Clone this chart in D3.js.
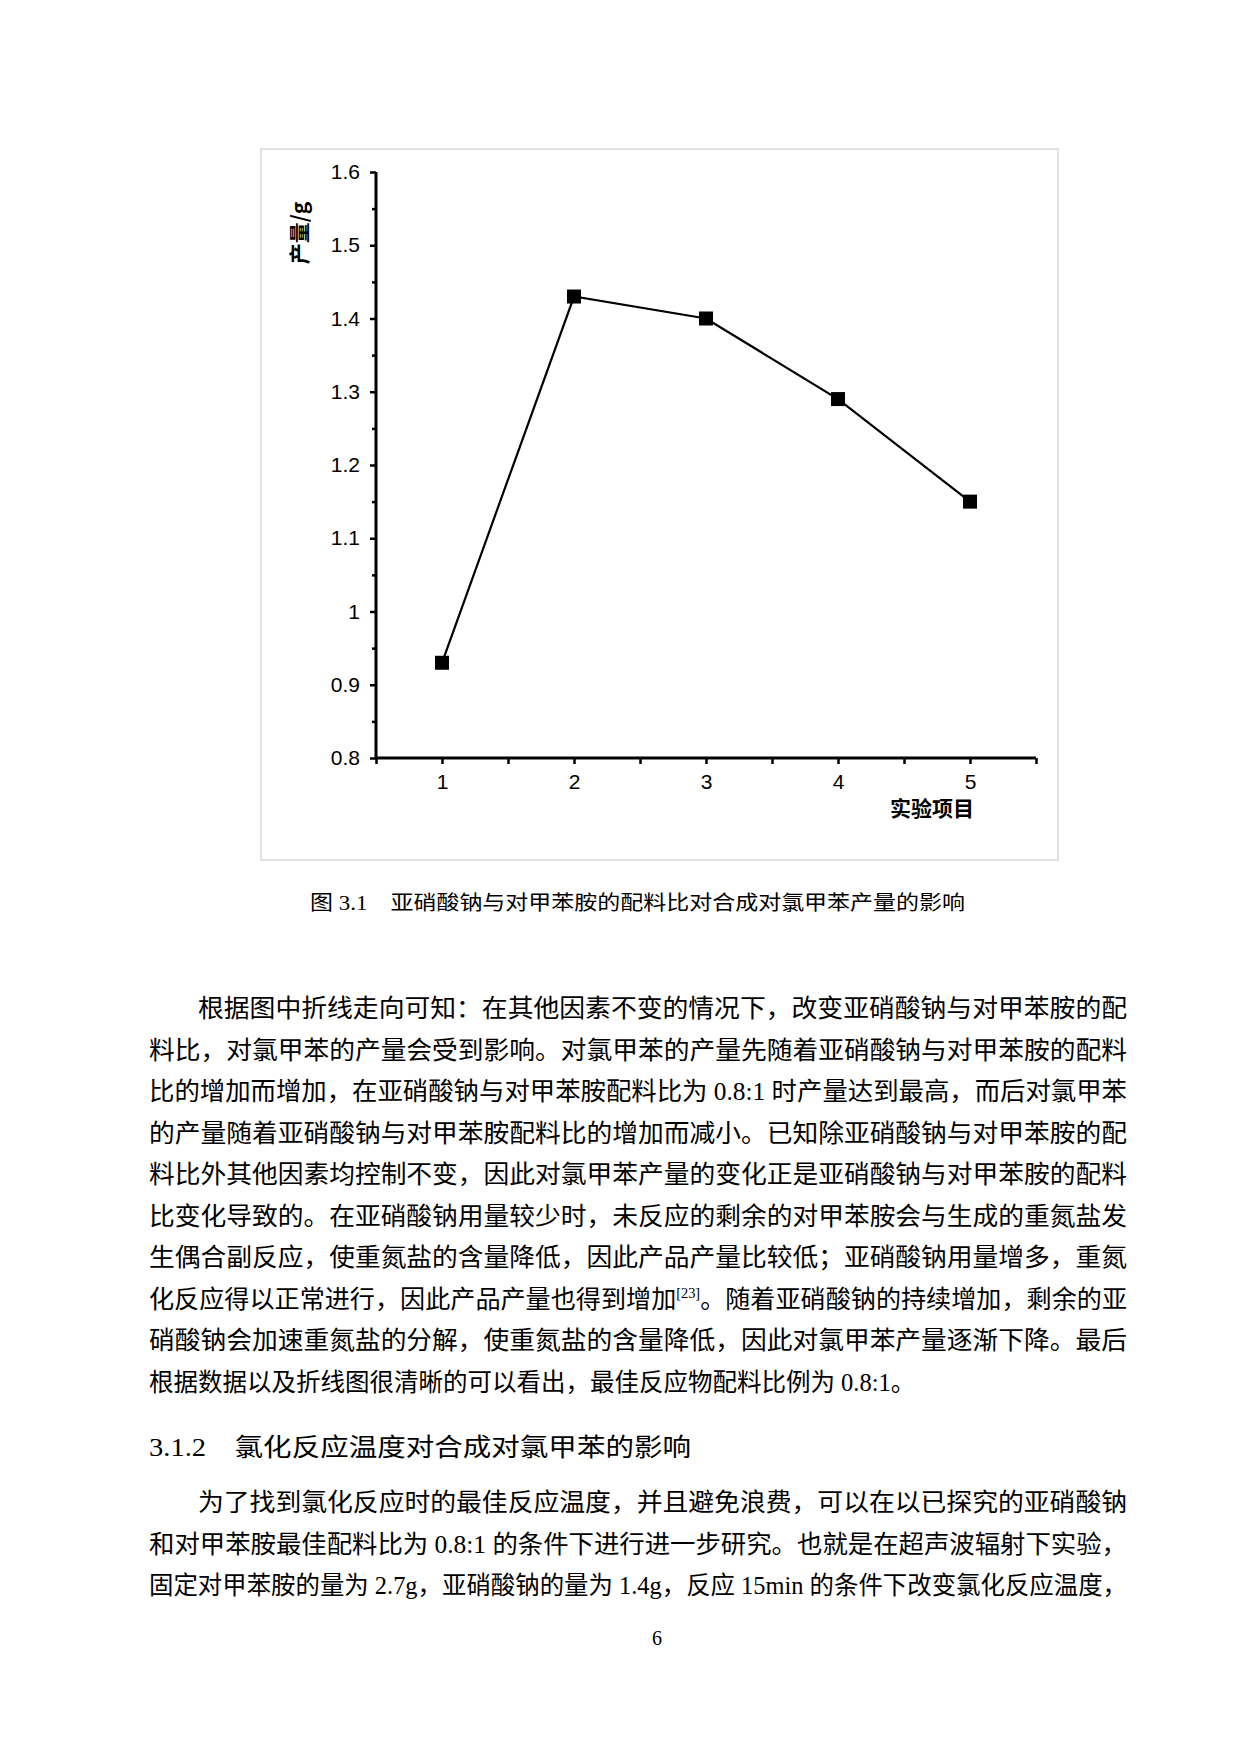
<!DOCTYPE html><html><head><meta charset="utf-8"><script src="https://cdn.jsdelivr.net/npm/d3@7"></script>
<style>body{margin:0;background:#fff}text{white-space:pre}</style></head><body><svg id="s" width="1240" height="1754"></svg>
<script>
const categories=[1,2,3,4,5];
const yields=[0.93,1.43,1.40,1.29,1.15];
const yTicks=[0.8,0.9,1,1.1,1.2,1.3,1.4,1.5,1.6];
const yLabel="产量/g", xLabel="实验项目";
const caption="图 3.1    亚硝酸钠与对甲苯胺的配料比对合成对氯甲苯产量的影响";
const body=[
"根据图中折线走向可知：在其他因素不变的情况下，改变亚硝酸钠与对甲苯胺的配",
"料比，对氯甲苯的产量会受到影响。对氯甲苯的产量先随着亚硝酸钠与对甲苯胺的配料",
"比的增加而增加，在亚硝酸钠与对甲苯胺配料比为 0.8:1 时产量达到最高，而后对氯甲苯",
"的产量随着亚硝酸钠与对甲苯胺配料比的增加而减小。已知除亚硝酸钠与对甲苯胺的配",
"料比外其他因素均控制不变，因此对氯甲苯产量的变化正是亚硝酸钠与对甲苯胺的配料",
"比变化导致的。在亚硝酸钠用量较少时，未反应的剩余的对甲苯胺会与生成的重氮盐发",
"生偶合副反应，使重氮盐的含量降低，因此产品产量比较低；亚硝酸钠用量增多，重氮",
"化反应得以正常进行，因此产品产量也得到增加[23]。随着亚硝酸钠的持续增加，剩余的亚",
"硝酸钠会加速重氮盐的分解，使重氮盐的含量降低，因此对氯甲苯产量逐渐下降。最后",
"根据数据以及折线图很清晰的可以看出，最佳反应物配料比例为 0.8:1。"];
const heading="3.1.2    氯化反应温度对合成对氯甲苯的影响";
const body2=[
"为了找到氯化反应时的最佳反应温度，并且避免浪费，可以在以已探究的亚硝酸钠",
"和对甲苯胺最佳配料比为 0.8:1 的条件下进行进一步研究。也就是在超声波辐射下实验，",
"固定对甲苯胺的量为 2.7g，亚硝酸钠的量为 1.4g，反应 15min 的条件下改变氯化反应温度，"];
const svg=d3.select("#s");
const font="'Liberation Serif','Noto Sans CJK SC',serif";
svg.append("rect").attr("x",261).attr("y",149).attr("width",797).attr("height",711).attr("fill","none").attr("stroke","#d9d9d9").attr("stroke-width",1.5);
const x=d3.scaleLinear().domain([0.5,5.5]).range([376,1036]);
const y=d3.scaleLinear().domain([0.8,1.6]).range([758,172]);
const ya=svg.append("g").attr("transform","translate(376,0)").call(d3.axisLeft(y).tickValues(yTicks).tickSize(6).tickFormat(d=>String(d)));
const ym=svg.append("g").attr("transform","translate(376,0)").call(d3.axisLeft(y).tickValues(yTicks.slice(0,-1).map(v=>v+0.05)).tickSize(4).tickFormat(""));
const xa=svg.append("g").attr("transform","translate(0,758)").call(d3.axisBottom(x).tickValues(categories).tickSize(6).tickFormat(d3.format("d")));
const xm=svg.append("g").attr("transform","translate(0,758)").call(d3.axisBottom(x).tickValues([0.5,1.5,2.5,3.5,4.5,5.5]).tickSize(6).tickFormat(""));
[ya,ym,xa,xm].forEach(g=>{g.select(".domain").attr("stroke-width",3).attr("stroke","#000");g.selectAll(".tick line").attr("stroke-width",2.5);g.selectAll("text").attr("font-family","'Liberation Sans',Arial").attr("font-size",21).attr("fill","#000");});
ym.select(".domain").remove();xm.select(".domain").remove();
ya.select(".domain").attr("d","M0,172V758");xa.select(".domain").attr("d","M376,0H1036");
ya.selectAll("text").attr("x",-16);xa.selectAll("text").attr("dy","1.05em");
svg.append("path").datum(categories.map((c,i)=>[c,yields[i]])).attr("fill","none").attr("stroke","#000").attr("stroke-width",2.2)
 .attr("d",d3.line().x(d=>x(d[0])).y(d=>y(d[1])));
svg.selectAll("rect.m").data(categories).enter().append("rect").attr("class","m").attr("x",d=>x(d)-7).attr("y",(d,i)=>y(yields[i])-7).attr("width",14).attr("height",14).attr("fill","#000");
svg.append("text").attr("transform","translate(307,233) rotate(-90)").attr("text-anchor","middle").attr("font-family","'Noto Sans CJK SC'").attr("font-weight","bold").attr("font-size",21).text(yLabel);
svg.append("text").attr("x",932).attr("y",816).attr("text-anchor","middle").attr("font-family","'Noto Sans CJK SC'").attr("font-weight","bold").attr("font-size",21).text(xLabel);
svg.append("text").attr("x",310).attr("y",910).attr("font-family",font).attr("font-size",20).attr("textLength",655).attr("lengthAdjust","spacingAndGlyphs").text(caption);
function para(lines,y0,first){lines.forEach((l,i)=>{const last=(i===lines.length-1)&&lines!==body2;const x0=(i===0&&first)?198:149;
 const t=svg.append("text").attr("x",x0).attr("y",y0+i*41.5).attr("font-family",font).attr("font-size",24.5);
 if(l.includes("[23]")){const p=l.split("[23]");t.append("tspan").text(p[0]);t.append("tspan").attr("font-size",14).attr("dy",-10).text("[23]");t.append("tspan").attr("dy",10).text(p[1]);}
 else t.text(l);
 if(!last)t.attr("textLength",1127-x0).attr("lengthAdjust","spacingAndGlyphs");});}
para(body,1017,true);
svg.append("text").attr("x",149).attr("y",1456).attr("font-family",font).attr("font-size",25).attr("textLength",542).attr("lengthAdjust","spacingAndGlyphs").text(heading);
para(body2,1511,true);
svg.append("text").attr("x",657).attr("y",1645).attr("text-anchor","middle").attr("font-family",font).attr("font-size",20).text("6");
</script></body></html>
